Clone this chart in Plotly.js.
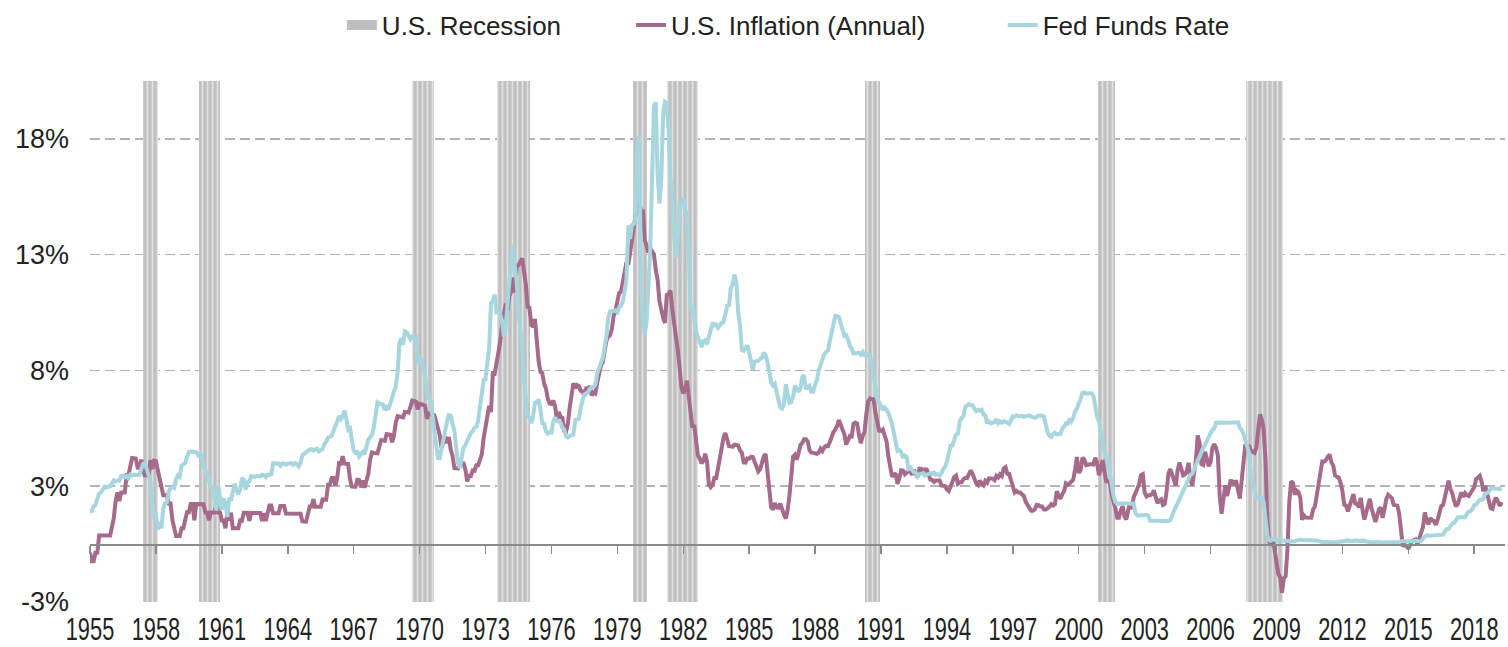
<!DOCTYPE html>
<html><head><meta charset="utf-8">
<script src="https://cdn.plot.ly/plotly-3.0.1.min.js"></script>
<style>html,body{margin:0;padding:0;background:#fff}#chart{width:1508px;height:647px}</style>
</head><body><div id="chart"></div>
<script>
// first monthly observation sits at this axis position; one value per month
const seriesStart = 1955;

// U.S. Inflation (Annual), % — monthly values
const inflation = [
-0.37,-0.74,-0.74,-0.37,-0.37,0.37,0.37,0.37,0.37,
0.37,0.37,0.37,0.75,1.12,1.87,2.23,1.86,2.23,2.23,2.23,2.99,
2.99,3.35,3.72,3.71,3.70,3.30,3.29,3.65,3.28,2.91,3.26,2.89,
3.62,3.24,3.60,3.58,3.21,2.84,2.47,2.11,2.11,2.11,1.75,1.75,
1.04,0.69,0.35,0.35,0.35,0.69,0.69,1.04,1.38,1.38,1.73,1.73,
1.03,1.73,1.73,1.73,1.73,1.72,1.37,1.37,1.03,1.37,1.37,1.37,
1.71,1.37,1.37,1.02,1.02,0.68,1.36,1.02,1.36,0.68,0.68,0.68,
0.68,1.02,1.01,1.35,1.35,1.35,1.01,1.35,1.34,1.34,1.34,1.34,
1.34,1.00,1.34,1.00,1.34,1.67,1.67,1.33,1.33,1.33,1.33,1.65,
1.65,1.65,1.32,1.32,1.32,1.31,1.31,1.31,1.31,1.31,1.31,0.98,
0.97,0.97,1.30,1.62,1.62,1.94,1.61,1.61,1.61,1.61,1.93,1.92,
1.92,2.56,2.56,2.86,2.86,2.53,2.85,3.49,3.48,3.79,3.48,3.46,
3.46,2.81,2.49,2.48,2.48,2.78,2.77,2.45,2.75,2.43,2.74,3.04,
3.65,3.96,3.94,3.93,3.92,4.20,4.49,4.48,4.46,4.75,4.73,4.72,
4.40,4.69,5.25,5.52,5.51,5.49,5.47,5.71,5.70,5.68,5.93,6.20,
6.18,6.15,5.82,6.06,6.04,6.01,5.98,5.41,5.64,5.61,5.58,5.57,
5.29,5.00,4.71,4.16,4.40,4.64,4.36,4.62,4.08,3.81,3.28,3.27,
3.27,3.51,3.50,3.49,3.23,2.71,2.95,2.94,3.18,3.17,3.41,3.41,
3.65,3.88,4.59,5.06,5.53,5.97,5.70,7.38,7.36,7.80,8.25,8.71,
9.39,10.02,10.39,10.09,10.71,10.89,11.51,10.86,11.95,12.06,12.20,12.34,
11.80,11.23,10.25,10.21,9.47,9.39,9.72,8.60,7.91,7.44,7.38,6.94,
6.72,6.29,6.07,6.05,6.20,5.97,5.35,5.71,5.49,5.46,4.89,4.86,
5.21,5.91,6.44,6.95,6.74,6.87,6.83,6.62,6.60,6.39,6.72,6.70,
6.82,6.42,6.54,6.50,6.96,7.41,7.70,7.85,8.31,8.77,8.95,9.02,
9.28,9.86,10.09,10.49,10.85,10.89,11.26,11.82,12.18,12.07,12.61,13.29,
13.91,14.18,14.76,14.73,14.41,14.38,13.13,12.87,12.60,12.77,12.65,12.52,
11.83,11.41,10.49,10.00,9.78,9.55,10.76,10.80,10.95,10.14,9.59,8.92,
8.39,7.62,6.78,6.51,6.68,7.06,6.44,5.85,5.04,5.14,4.59,3.83,
3.71,3.49,3.60,3.90,3.55,2.58,2.46,2.56,2.86,2.85,3.27,3.79,
4.19,4.60,4.80,4.56,4.23,4.22,4.20,4.29,4.27,4.26,4.05,3.95,
3.53,3.52,3.70,3.69,3.77,3.76,3.55,3.35,3.14,3.23,3.51,3.80,
3.89,3.11,2.26,1.59,1.49,1.77,1.58,1.57,1.75,1.47,1.28,1.10,
1.46,2.10,3.03,3.78,3.86,3.65,3.93,4.28,4.36,4.53,4.53,4.43,
4.05,3.95,3.94,3.92,3.90,3.95,4.12,4.02,4.18,4.24,4.23,4.40,
4.67,4.83,4.94,5.10,5.36,5.17,5.00,4.74,4.30,4.53,4.67,4.65,
5.20,5.25,5.21,4.71,4.36,4.67,4.84,5.62,6.16,6.29,6.25,6.25,
5.65,5.31,4.90,4.89,4.95,4.70,4.45,3.80,3.39,2.92,2.99,3.06,
2.60,2.82,3.19,3.18,3.02,3.09,3.16,3.15,2.99,3.20,3.05,2.90,
3.26,3.25,3.09,3.23,3.22,3.00,2.78,2.77,2.69,2.75,2.75,2.75,
2.53,2.52,2.51,2.36,2.29,2.49,2.77,2.90,2.96,2.61,2.67,2.67,
2.80,2.86,2.85,3.05,3.18,3.04,2.76,2.62,2.55,2.75,2.61,2.54,
2.73,2.65,2.84,2.84,2.83,2.76,2.95,2.88,3.01,2.94,3.26,3.32,
3.04,3.03,2.76,2.50,2.23,2.30,2.23,2.23,2.15,2.08,1.83,1.70,
1.57,1.44,1.44,1.50,1.69,1.68,1.62,1.62,1.49,1.49,1.55,1.61,
1.73,1.67,1.73,2.28,2.09,1.96,2.15,2.28,2.62,2.56,2.62,2.68,
2.79,3.22,3.76,3.07,3.19,3.73,3.66,3.41,3.45,3.45,3.45,3.44,
3.73,3.53,2.98,3.22,3.63,3.25,2.72,2.72,2.65,2.13,1.90,1.55,
1.14,1.14,1.48,1.64,1.18,1.07,1.46,1.80,1.51,2.03,2.20,2.38,
2.60,2.98,3.02,2.22,2.06,2.11,2.11,2.16,2.32,2.04,1.77,1.88,
1.93,1.69,1.74,2.29,3.05,3.24,3.00,2.65,2.53,3.19,3.52,3.26,
2.97,3.01,3.15,3.51,2.80,2.52,3.17,3.64,4.69,4.35,3.46,3.42,
3.99,3.60,3.36,3.55,4.17,4.32,4.15,3.82,2.06,1.31,1.97,2.54,
2.08,2.42,2.78,2.57,2.69,2.69,2.36,1.97,2.76,3.54,4.31,4.08,
4.28,4.03,3.98,3.94,4.18,5.02,5.60,5.37,4.94,3.66,1.07,0.09,
0.03,0.24,-0.38,-0.74,-1.28,-1.43,-2.10,-1.48,-1.38,-0.18,1.84,2.72,
2.63,2.14,2.31,2.24,2.02,1.05,1.24,1.15,1.14,1.17,1.14,1.50,
1.63,2.11,2.68,3.16,3.57,3.56,3.63,3.77,3.87,3.53,3.39,2.96,
2.93,2.87,2.65,2.30,1.70,1.66,1.41,1.69,1.99,2.16,1.76,1.74,
1.59,2.00,1.47,1.06,1.36,1.75,1.96,1.52,1.18,0.96,1.24,1.50,
1.58,1.13,1.51,1.95,2.13,2.07,1.99,1.70,1.66,1.66,1.32,0.76,
-0.09,-0.03,-0.07,-0.20,-0.04,0.12,0.17,0.20,-0.04,0.17,0.50,0.73,
1.37,1.02,0.85,1.13,1.02,1.00,0.83,1.06,1.46,1.64,1.69,2.07,
2.50,2.74,2.38,2.20,1.87,1.63,1.73,1.94,2.23,2.04,2.20,2.11,
2.07,2.21,2.36,2.46,2.80,2.87,2.95,2.70,2.28,2.52,2.18,1.91,
1.55,1.52,1.86,2.00,1.79,1.65,1.81
];

// Fed Funds Rate, % — monthly values
const fedFunds = [
1.43,1.43,1.64,1.68,1.96,2.18,2.24,2.35,2.48,
2.45,2.50,2.50,2.62,2.75,2.71,2.75,2.73,2.95,2.96,2.88,2.94,
2.84,3.00,2.96,3.00,3.00,3.00,2.99,3.24,3.47,3.50,3.28,2.98,
2.72,1.67,1.20,1.26,0.63,0.93,0.68,1.53,1.76,1.80,2.27,2.42,
2.48,2.43,2.80,2.96,2.90,3.39,3.47,3.50,3.76,3.98,4.00,3.99,
3.99,3.97,3.84,3.92,3.85,3.32,3.23,2.98,2.60,2.47,2.44,1.98,
1.45,2.54,2.02,1.49,1.98,1.73,1.17,2.00,1.88,2.26,2.61,2.33,
2.15,2.37,2.85,2.78,2.36,2.68,2.71,2.93,2.90,2.90,2.94,2.93,
2.92,3.00,2.98,2.90,3.00,2.99,3.02,3.49,3.48,3.50,3.48,3.38,
3.48,3.48,3.43,3.47,3.50,3.50,3.42,3.50,3.45,3.36,3.52,3.85,
3.90,3.98,4.04,4.09,4.10,4.04,4.09,4.12,4.01,4.08,4.10,4.32,
4.42,4.60,4.65,4.67,4.90,5.17,5.30,5.53,5.40,5.53,5.76,5.40,
4.94,5.00,4.53,4.05,3.94,3.98,3.79,3.90,3.99,3.88,4.13,4.51,
4.61,4.71,5.05,5.76,6.12,6.07,6.03,6.03,5.78,5.91,5.82,6.02,
6.30,6.61,6.79,7.41,8.67,8.90,8.61,9.19,9.15,9.00,8.85,8.97,
8.98,8.98,7.76,8.10,7.94,7.60,7.21,6.61,6.29,6.20,5.60,4.90,
4.14,3.72,3.71,4.15,4.63,4.91,5.31,5.57,5.55,5.20,4.91,4.14,
3.50,3.29,3.83,4.17,4.27,4.46,4.55,4.80,4.87,5.04,5.06,5.33,
5.94,6.58,7.09,7.12,7.84,8.49,10.40,10.50,10.78,10.01,10.03,9.95,
9.65,8.97,9.35,10.51,11.31,11.93,12.92,12.01,11.34,10.06,9.45,8.53,
7.13,6.24,5.54,5.49,5.22,5.55,6.10,6.14,6.24,5.82,5.22,5.20,
4.87,4.77,4.84,4.82,5.29,5.48,5.31,5.29,5.25,5.03,4.95,4.65,
4.61,4.68,4.69,4.73,5.35,5.39,5.42,5.90,6.14,6.47,6.51,6.56,
6.70,6.78,6.79,6.89,7.36,7.60,7.81,8.04,8.45,8.96,9.76,10.03,
10.07,10.06,10.09,10.01,10.24,10.29,10.47,10.94,11.43,13.77,13.18,13.78,
13.82,14.13,17.19,17.61,10.98,9.47,9.03,9.61,10.87,12.81,15.85,18.90,
19.08,15.93,14.70,15.72,18.52,19.10,19.04,17.82,15.87,15.08,13.31,12.37,
13.22,14.78,14.68,14.94,14.45,14.15,12.59,10.12,10.31,9.71,9.20,8.95,
8.68,8.51,8.77,8.80,8.63,8.98,9.37,9.56,9.45,9.48,9.34,9.47,
9.56,9.59,9.91,10.29,10.32,11.06,11.23,11.64,11.30,9.99,9.43,8.38,
8.35,8.50,8.58,8.27,7.97,7.53,7.88,7.90,7.92,7.99,8.05,8.27,
8.14,7.86,7.48,6.99,6.85,6.92,6.56,6.17,5.89,5.85,6.04,6.91,
6.43,6.10,6.13,6.37,6.85,6.73,6.58,6.73,7.22,7.29,6.69,6.77,
6.83,6.58,6.58,6.87,7.09,7.51,7.75,8.01,8.19,8.30,8.35,8.76,
9.12,9.36,9.85,9.84,9.81,9.53,9.24,8.99,9.02,8.84,8.55,8.45,
8.23,8.24,8.28,8.26,8.18,8.29,8.15,8.13,8.20,8.11,7.81,7.31,
6.91,6.25,6.12,5.91,5.78,5.90,5.82,5.66,5.45,5.21,4.81,4.43,
4.03,4.06,3.98,3.73,3.82,3.76,3.25,3.30,3.22,3.10,3.09,2.92,
3.02,3.03,3.07,2.96,3.00,3.04,3.06,3.03,3.09,2.99,3.02,2.96,
3.05,3.25,3.34,3.56,4.01,4.25,4.26,4.47,4.73,4.76,5.29,5.45,
5.53,5.92,5.98,6.05,6.01,6.00,5.85,5.74,5.80,5.76,5.80,5.60,
5.56,5.22,5.31,5.22,5.24,5.27,5.40,5.22,5.30,5.24,5.31,5.29,
5.25,5.19,5.39,5.51,5.50,5.56,5.52,5.54,5.54,5.50,5.52,5.50,
5.56,5.51,5.49,5.45,5.49,5.56,5.54,5.55,5.51,5.07,4.83,4.68,
4.63,4.76,4.81,4.74,4.74,4.76,4.99,5.07,5.22,5.20,5.42,5.30,
5.45,5.73,5.85,6.02,6.27,6.53,6.54,6.50,6.52,6.51,6.51,6.40,
5.98,5.49,5.31,4.80,4.21,3.97,3.77,3.65,3.07,2.49,2.09,1.82,
1.73,1.74,1.73,1.75,1.75,1.75,1.73,1.74,1.75,1.75,1.34,1.24,
1.24,1.26,1.25,1.26,1.26,1.22,1.01,1.03,1.01,1.01,1.00,0.98,
1.00,1.01,1.00,1.00,1.00,1.03,1.26,1.43,1.61,1.76,1.93,2.16,
2.28,2.50,2.63,2.79,3.00,3.04,3.26,3.50,3.62,3.78,4.00,4.16,
4.29,4.49,4.59,4.79,4.94,4.99,5.24,5.25,5.25,5.25,5.25,5.24,
5.25,5.26,5.26,5.25,5.25,5.25,5.26,5.02,4.94,4.76,4.49,4.24,
3.94,2.98,2.61,2.28,1.98,2.00,2.01,2.00,1.81,0.97,0.39,0.16,
0.15,0.22,0.18,0.15,0.18,0.21,0.16,0.16,0.15,0.12,0.12,0.12,
0.11,0.13,0.16,0.20,0.20,0.18,0.18,0.19,0.19,0.19,0.19,0.18,
0.17,0.16,0.14,0.10,0.09,0.09,0.07,0.10,0.08,0.07,0.08,0.07,
0.08,0.10,0.13,0.14,0.16,0.16,0.16,0.13,0.14,0.16,0.16,0.16,
0.14,0.15,0.14,0.15,0.11,0.09,0.09,0.08,0.08,0.09,0.08,0.09,
0.07,0.07,0.08,0.09,0.09,0.10,0.09,0.09,0.09,0.09,0.09,0.12,
0.11,0.11,0.11,0.12,0.12,0.13,0.13,0.14,0.14,0.12,0.12,0.24,
0.34,0.38,0.36,0.37,0.37,0.38,0.39,0.40,0.40,0.40,0.41,0.54,
0.65,0.66,0.79,0.90,0.91,1.04,1.15,1.16,1.15,1.15,1.16,1.30,
1.41,1.42,1.51,1.69,1.70,1.82,1.91,1.91,1.95,2.19,2.20,2.27,
2.40,2.40,2.41,2.42,2.39,2.38,2.40
];

// U.S. recession periods (axis years)
const recessionStart = [1957.40, 1959.96, 1969.66, 1973.52, 1979.72, 1981.26, 1990.27, 2000.88, 2007.62];
const recessionEnd   = [1958.11, 1960.92, 1970.66, 1975.03, 1980.35, 1982.67, 1990.96, 2001.65, 2009.30];

// axis ticks
const xTickYears = [1955,1958,1961,1964,1967,1970,1973,1976,1979,1982,1985,1988,1991,1994,1997,2000,2003,2006,2009,2012,2015,2018];
const yTickValues = [-2.5, 2.5, 7.5, 12.5, 17.5];
const yTickLabels = ['-3%', '3%', '8%', '13%', '18%'];

const seriesNames = ['U.S. Recession', 'U.S. Inflation (Annual)', 'Fed Funds Rate'];

// ---- build ----
const X_RANGE = [1955, 2019.4];
const Y_RANGE = [-2.5, 20];
const months = inflation.map((_, i) => seriesStart + i / 12);
const NB = '\u00a0';
const pad = n => NB.repeat(n);

const recCenters = recessionStart.map((s, i) => (s + recessionEnd[i]) / 2);
const recWidths = recessionStart.map((s, i) => recessionEnd[i] - s);

const FONT = 'Liberation Sans, Arial, Helvetica, sans-serif';

const traces = [
  {
    type: 'bar', x: recCenters, width: recWidths,
    y: recCenters.map(() => Y_RANGE[1] - Y_RANGE[0]), base: Y_RANGE[0],
    marker: {color: '#c2c2c2', line: {width: 0},
      pattern: {shape: '|', fgcolor: '#e2e2e2', bgcolor: '#c0c0c0', size: 5, solidity: 0.35}},
    showlegend: false, hoverinfo: 'skip'
  },
  {
    type: 'scatter', mode: 'lines', x: [null], y: [null],
    name: seriesNames[0] + pad(9), line: {color: '#bfbfbf', width: 12}, hoverinfo: 'skip'
  },
  {
    type: 'scatter', mode: 'lines', x: months, y: inflation,
    name: seriesNames[1] + pad(10), line: {color: '#a66a8b', width: 4}
  },
  {
    type: 'scatter', mode: 'lines', x: months, y: fedFunds,
    name: seriesNames[2], line: {color: '#a8d6de', width: 4}
  },
  { type: 'scatter', x: [], y: [], xaxis: 'x2', showlegend: false, hoverinfo: 'skip' }
];

const layout = {
  width: 1508, height: 647,
  margin: {l: 90, r: 3, t: 80, b: 45},
  paper_bgcolor: '#ffffff', plot_bgcolor: '#ffffff',
  showlegend: true,
  legend: {
    orientation: 'h', x: 0.178, xanchor: 'left', y: 1.105, yanchor: 'middle',
    font: {family: FONT, size: 26, color: '#222222'}, bgcolor: 'rgba(0,0,0,0)'
  },
  bargap: 0,
  xaxis: {
    range: X_RANGE, tickvals: xTickYears, ticktext: xTickYears.map(String),
    showgrid: false, zeroline: false, showline: false, ticks: '',
    ticklabelstandoff: 12,
    tickfont: {family: FONT, size: 26, color: '#222222'}, fixedrange: true
  },
  xaxis2: {
    overlaying: 'x', anchor: 'free', side: 'bottom',
    position: (0 - Y_RANGE[0]) / (Y_RANGE[1] - Y_RANGE[0]),
    range: X_RANGE, tickvals: xTickYears, ticks: 'outside', ticklen: 8, tickwidth: 1.5,
    tickcolor: '#8a8a8a', showticklabels: false, showline: true, linecolor: '#8a8a8a',
    linewidth: 1.5, showgrid: false, zeroline: false, fixedrange: true
  },
  yaxis: {
    range: Y_RANGE, tickvals: yTickValues, ticktext: yTickLabels,
    showgrid: true, gridcolor: '#b3b3b3', gridwidth: 1.5, griddash: '10px,5px',
    zeroline: false, showline: false, ticks: '', ticklabelstandoff: 20,
    tickfont: {family: FONT, size: 27, color: '#222222'}, fixedrange: true
  }
};

Plotly.newPlot('chart', traces, layout, {displayModeBar: false, staticPlot: true}).then(gd => {
  // the reference uses a condensed face for the year labels: narrow them in place
  gd.querySelectorAll('.xaxislayer-above .xtick text').forEach(t => {
    const bb = t.getBBox();
    const cy = bb.y + bb.height;
    const tr = t.getAttribute('transform') || '';
    t.setAttribute('transform', tr + ' translate(0,' + cy + ') scale(0.84,1.2) translate(0,' + (-cy) + ')');
  });
});
</script>
</body></html>
